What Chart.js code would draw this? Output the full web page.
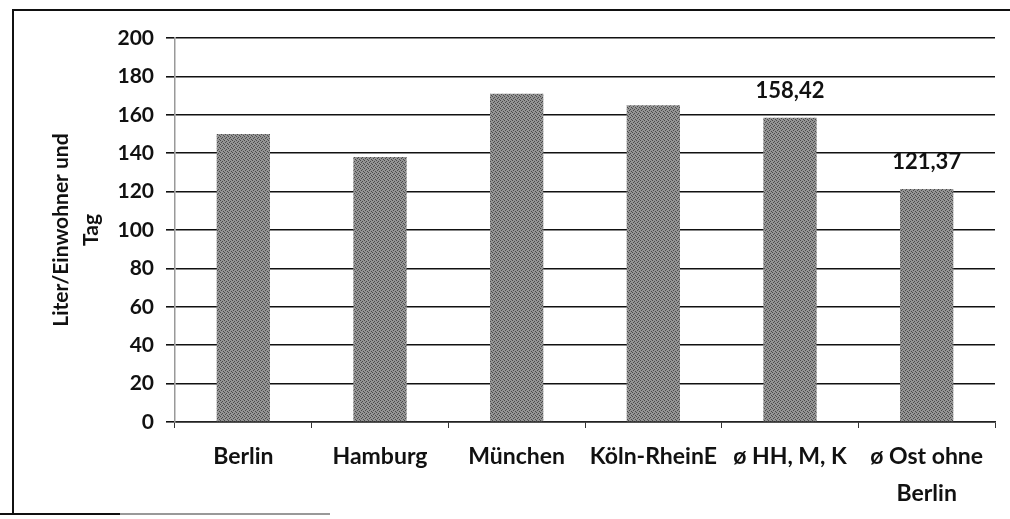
<!DOCTYPE html>
<html>
<head>
<meta charset="utf-8">
<script src="https://cdn.jsdelivr.net/npm/chart.js@4.4.1/dist/chart.umd.min.js"></script>
<style>
    html, body { margin: 0; padding: 0; background: #fff; }
    #wrap { position: relative; width: 1010px; height: 519px; }
    #frame {
        position: absolute; left: 12px; top: 9px; width: 1010px; height: 503px;
        border-left: 2px solid #111; border-top: 2px solid #111;
    }
    #base1 { position: absolute; left: 0; top: 513px; width: 120px; border-top: 2px solid #111; }
    #base2 { position: absolute; left: 120px; top: 513px; width: 210px; border-top: 2px solid #999; }
    canvas { position: absolute; left: 0; top: 0; }
</style>
</head>
<body>
<div id="wrap">
    <div id="frame"></div>
    <div id="base1"></div>
    <div id="base2"></div>
    <canvas id="water_chart" width="1010" height="519"></canvas>
</div>
<script>
const categories = ["Berlin", "Hamburg", "München", "Köln-RheinE", "ø HH, M, K", ["ø Ost ohne", "Berlin"]];
const usage = [150, 138, 171, 165, 158.42, 121.37];
const shownLabels = [null, null, null, null, "158,42", "121,37"];
const yTicks = [0, 20, 40, 60, 80, 100, 120, 140, 160, 180, 200];

const ctx = document.querySelector("#water_chart").getContext("2d");

// grainy grey fill like the scanned bars
const tile = document.createElement("canvas");
tile.width = 4;
tile.height = 4;
const tctx = tile.getContext("2d");
tctx.fillStyle = "#959595";
tctx.fillRect(0, 0, 4, 4);
tctx.fillStyle = "#4a4a4a";
[[0, 0], [2, 1], [1, 2], [3, 3]].forEach(([x, y]) => tctx.fillRect(x, y, 1, 1));
const barFill = ctx.createPattern(tile, "repeat");

const valueLabels = {
    id: "valueLabels",
    afterDatasetsDraw(chart) {
        const c = chart.ctx;
        const meta = chart.getDatasetMeta(0);
        c.save();
        c.font = "bold 22px Lato";
        c.fillStyle = "#111";
        c.textAlign = "center";
        c.textBaseline = "bottom";
        meta.data.forEach((bar, i) => {
            if (shownLabels[i]) c.fillText(shownLabels[i], bar.x, bar.y - 16);
        });
        c.restore();
    },
};

const waterChart = new Chart(ctx, {
    type: "bar",
    data: {
        labels: categories,
        datasets: [
            {
                label: "Liter/Einwohner und Tag",
                data: usage,
                backgroundColor: barFill,
                barPercentage: 0.39,
                categoryPercentage: 1,
            },
        ],
    },
    options: {
        responsive: false,
        animation: false,
        layout: {
            padding: { top: 38, right: 15, bottom: 0, left: 0 },
        },
        plugins: {
            legend: { display: false },
            tooltip: { enabled: false },
        },
        scales: {
            x: {
                offset: true,
                grid: {
                    display: true,
                    offset: true,
                    drawOnChartArea: false,
                    tickLength: 6,
                    color: "#333",
                },
                border: { display: true, color: "#222", width: 1.5 },
                ticks: {
                    color: "#111",
                    font: { size: 23, weight: "bold", family: "Lato", lineHeight: 1.6 },
                    padding: 10,
                    maxRotation: 0,
                    autoSkip: false,
                },
                afterFit(scale) {
                    scale.height = 97;
                },
            },
            y: {
                min: 0,
                max: 200,
                afterBuildTicks(scale) {
                    scale.ticks = yTicks.map((v) => ({ value: v }));
                },
                grid: {
                    color: "#111",
                    lineWidth: 1.6,
                    tickLength: 9,
                },
                border: { display: true, color: "#999", width: 1.5 },
                ticks: {
                    color: "#111",
                    font: { size: 21, weight: "bold", family: "Lato" },
                    padding: 12,
                },
                title: {
                    display: true,
                    text: ["Liter/Einwohner und", "Tag"],
                    color: "#111",
                    font: { size: 21, weight: "bold", family: "Lato", lineHeight: 1.45 },
                    padding: { top: 46, bottom: 0 },
                },
                afterFit(scale) {
                    scale.width = 175;
                },
            },
        },
    },
    plugins: [valueLabels],
});
</script>
</body>
</html>
